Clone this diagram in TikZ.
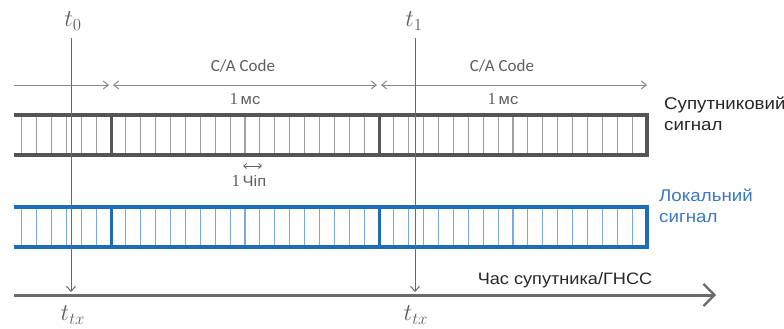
\documentclass[tikz,border=0pt]{standalone}
\usepackage{fontspec}
\setmainfont{Liberation Sans}[FakeStretch=1.1]
\newfontfamily\capfont{Carlito}
\newfontfamily\numfont{Liberation Serif}
\usetikzlibrary{arrows.meta}
\definecolor{bargray}{HTML}{555555}
\definecolor{chipgray}{HTML}{A0A0A0}
\definecolor{barblue}{HTML}{1E6BB8}
\definecolor{chipblue}{HTML}{7AAADB}
\definecolor{txtgray}{HTML}{5E5E5E}
\definecolor{lblblue}{HTML}{3A78C2}
\definecolor{axgray}{HTML}{6A6A6A}
\tikzset{
  barline/.style={line width=4pt},
  sepline/.style={line width=3pt},
  chipline/.style={line width=1.2pt},
  tline/.style={draw=axgray, line width=1pt},
  dimline/.style={draw=axgray!80, line width=1pt},
  lbl/.style={inner sep=0pt, anchor=base west, font=\fontsize{17}{21}\selectfont, align=left},
  catext/.style={inner sep=0pt, anchor=base, font=\capfont\fontsize{17}{20}\selectfont, text=txtgray},
  tlbl/.style={inner sep=0pt, text=txtgray, font=\fontsize{17}{20}\selectfont},
  small/.style={inner sep=0pt, anchor=base, text=txtgray, font=\fontsize{15}{20}\selectfont}
}
\begin{document}
\begin{tikzpicture}[x=1pt,y=-1pt]
\useasboundingbox (0,0) rectangle (784,329);
\def\s{14.8889}
% bars
\foreach \yt/\yb/\bc/\cc in {115/155/bargray/chipgray, 207/247/barblue/chipblue}{
  \foreach \k in {1,...,6} \draw[chipline,\cc] ({111-\k*\s},\yt) -- ({111-\k*\s},\yb);
  \foreach \k in {1,...,17} \draw[chipline,\cc] ({111+\k*\s},\yt) -- ({111+\k*\s},\yb);
  \foreach \k in {1,...,17} \draw[chipline,\cc] ({379+\k*\s},\yt) -- ({379+\k*\s},\yb);
  \draw[sepline,\bc] (111,\yt) -- (111,\yb);
  \draw[sepline,\bc] (379,\yt) -- (379,\yb);
  \draw[barline,\bc] (14,\yt) -- (647,\yt) -- (647,\yb) -- (14,\yb);
}
% dimension line
\coordinate (d0) at (14,85);
\coordinate (d1) at (111,85);
\coordinate (d2) at (379,85);
\coordinate (d3) at (647,85);
\draw[dimline,-{Straight Barb[length=5pt,width=8pt]}] (d0) -- ([xshift=-2pt]d1);
\draw[dimline,{Straight Barb[length=5pt,width=8pt]}-{Straight Barb[length=5pt,width=8pt]}] ([xshift=2pt]d1) -- ([xshift=-2pt]d2);
\draw[dimline,{Straight Barb[length=5pt,width=8pt]}-{Straight Barb[length=5pt,width=8pt]}] ([xshift=2pt]d2) -- (d3);
\node[catext] (ca1) at (243,71) {C/A Code};
\node[catext] (ca2) at (502,71) {C/A Code};
\node[small] (ms1) at (245,104) {{\numfont\fontsize{17}{20}\selectfont 1}\,мс};
\node[small] (ms2) at (503,104) {{\numfont\fontsize{17}{20}\selectfont 1}\,мс};
% chip
\coordinate (c0) at (243,166);
\coordinate (c1) at (262,166);
\draw[draw=txtgray, line width=0.8pt, {Straight Barb[length=3pt,width=5pt]}-{Straight Barb[length=3pt,width=5pt]}] (c0) -- (c1);
\node[small] (chip) at (249,186) {{\numfont\fontsize{17}{20}\selectfont 1}\,Чіп};
% time axis
\coordinate (a0) at (14,295);
\coordinate (a1) at (716,295);
\draw[draw=axgray, line width=3pt, -{Straight Barb[length=11pt,width=22pt,line width=2.2pt]}] (a0) -- (a1);
\node[inner sep=0pt, anchor=base, text=black!85, font=\fontsize{16.5}{20}\selectfont] (ax) at (565,284) {Час супутника/ГНСС};
% time markers
\coordinate (t0a) at (71,38);
\coordinate (t0b) at (71,292);
\coordinate (t1a) at (415,38);
\coordinate (t1b) at (415,292);
\draw[tline,-{Straight Barb[length=5pt,width=9pt]}] (t0a) -- (t0b);
\draw[tline,-{Straight Barb[length=5pt,width=9pt]}] (t1a) -- (t1b);
\node[tlbl] (t0) at (73,21) {\scalebox{1.4}{$t_0$}};
\node[tlbl] (t1) at (414,21) {\scalebox{1.4}{$t_1$}};
\node[tlbl] (tx0) at (73,315) {\scalebox{1.4}{$t_{tx}$}};
\node[tlbl] (tx1) at (416,315) {\scalebox{1.4}{$t_{tx}$}};
% labels
\node[lbl, text=black!85] (sat) at (664,130) {Супутниковий\\сигнал};
\node[lbl, text=lblblue] (loc) at (659,222) {Локальний\\сигнал};
\end{tikzpicture}
\end{document}
